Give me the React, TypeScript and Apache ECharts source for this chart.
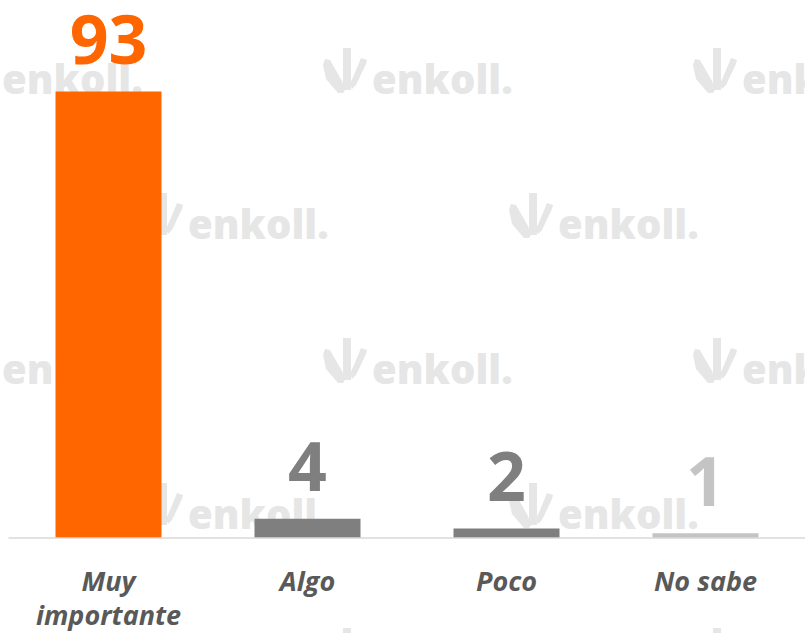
import React, { useEffect, useRef } from "react";
import * as echarts from "echarts";

const categories = ["Muy\nimportante", "Algo", "Poco", "No sabe"];
const values = [93, 4, 2, 1];
const barColors = ["#FF6600", "#7F7F7F", "#7F7F7F", "#C4C4C4"];
const labelColors = ["#FF6600", "#7F7F7F", "#7F7F7F", "#C4C4C4"];

const WM_COLOR = "#E6E6E6";

function watermark(x0: number, base: number) {
  const p = (pts: number[][]) => pts.map(([x, y]) => [x0 + x, base + y]);
  return [
    {
      type: "polygon",
      silent: true,
      z: -10,
      shape: { points: p([[0, -28], [2, -34], [7, -33], [19, -12], [22, -3], [20, 0], [15, 0], [3, -14]]) },
      style: { fill: WM_COLOR },
    },
    {
      type: "rect",
      silent: true,
      z: -10,
      shape: { x: x0 + 20, y: base - 45, width: 8, height: 42 },
      style: { fill: WM_COLOR },
    },
    {
      type: "polygon",
      silent: true,
      z: -10,
      shape: { points: p([[38, -35], [44, -33], [43, -29], [33, -8], [29, -4], [27, -9], [31, -18]]) },
      style: { fill: WM_COLOR },
    },
    {
      type: "text",
      silent: true,
      z: -10,
      x: x0 + 49,
      y: base - 15,
      style: {
        text: "enkoll.",
        fill: WM_COLOR,
        font: "800 40px 'Open Sans', sans-serif",
        verticalAlign: "middle",
        align: "left",
      },
    },
  ];
}

function buildWatermarks() {
  const rows = [93, 238, 383, 528, 673];
  const out: any[] = [];
  rows.forEach((b, i) => {
    const xs = i % 2 === 0 ? [-47, 323, 693] : [139, 509];
    xs.forEach((x) => out.push(...watermark(x, b)));
  });
  return out;
}

export default function App() {
  const ref = useRef<HTMLDivElement>(null);
  useEffect(() => {
    if (!ref.current) return;
    const chart = echarts.init(ref.current, null, { renderer: "svg" });
    chart.setOption({
      animation: false,
      backgroundColor: "#FFFFFF",
      graphic: { elements: buildWatermarks() },
      grid: { left: 9, right: -4, top: 58, bottom: 95 },
      xAxis: {
        type: "category",
        data: categories,
        axisTick: { show: false },
        axisLine: { show: true, lineStyle: { color: "#D9D9D9", width: 1.5 } },
        axisLabel: {
          interval: 0,
          margin: 25,
          fontFamily: "'Open Sans', sans-serif",
          fontStyle: "italic",
          fontWeight: "bold",
          fontSize: 27,
          lineHeight: 34,
          color: "#595959",
        },
        z: 5,
      },
      yAxis: {
        type: "value",
        min: 0,
        max: 100,
        show: false,
        splitLine: { show: false },
      },
      series: [
        {
          type: "bar",
          barWidth: 106,
          z: 2,
          data: values.map((v, i) => ({
            value: v,
            itemStyle: { color: barColors[i] },
            label: { color: labelColors[i] },
          })),
          label: {
            show: true,
            position: "top",
            distance: 20,
            fontFamily: "'Open Sans', sans-serif",
            fontWeight: "bold",
            fontSize: 68,
          },
        },
      ],
    });
    return () => chart.dispose();
  }, []);
  return (
    <div
      ref={ref}
      style={{ position: "absolute", left: 0, top: 0, width: 805, height: 633 }}
    />
  );
}
